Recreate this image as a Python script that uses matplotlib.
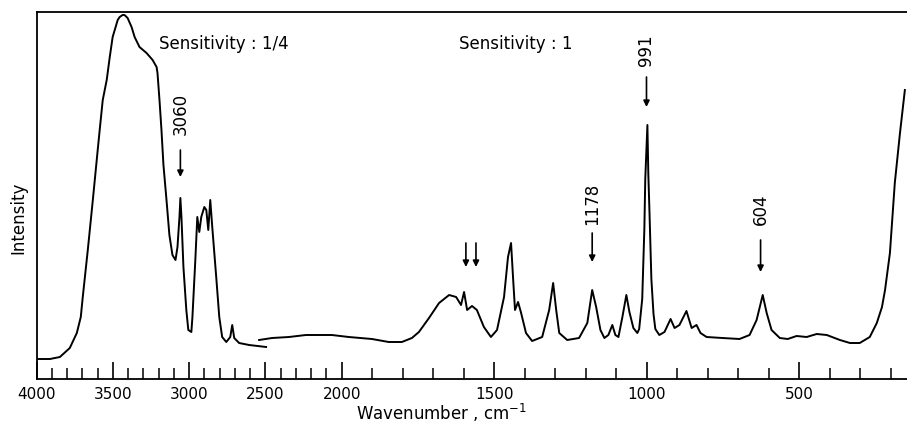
import numpy as np
import matplotlib
matplotlib.use("Agg")
import matplotlib.pyplot as plt

# Raman spectrum (wavenumber in cm-1, intensity in arb. units)
# Segment 1: 4000-2500 cm-1 recorded at sensitivity 1/4
hi_wn = [4000, 3946, 3913, 3848, 3783, 3737, 3711, 3698, 3665, 3632, 3600, 3587,
         3567, 3541, 3521, 3502, 3469, 3456, 3437, 3424, 3404, 3378, 3358, 3326,
         3280, 3240, 3214, 3208, 3195, 3182, 3169, 3149, 3130, 3110, 3090, 3077,
         3064, 3058, 3051, 3038, 3019, 3006, 2986, 2979, 2960, 2947, 2934, 2921,
         2901, 2888, 2875, 2862, 2849, 2823, 2803, 2784, 2757, 2731, 2718, 2705,
         2673, 2607, 2496]
hi_int = [20, 20, 20, 22, 31, 46, 62, 82, 129, 179, 229, 249,
          279, 299, 322, 342, 359, 362, 364, 364, 361, 352, 342, 332,
          326, 319, 312, 306, 279, 249, 214, 179, 144, 124, 119, 132,
          162, 181, 162, 112, 69, 49, 47, 62, 119, 162, 147, 162,
          172, 169, 149, 179, 152, 102, 62, 42, 37, 42, 54, 41,
          36, 34, 32]

# Segment 2: 2540-150 cm-1 recorded at sensitivity 1
lo_wn = [2542, 2457, 2346, 2235, 2170, 2065, 1977, 1901, 1846, 1803, 1770, 1747,
         1714, 1681, 1648, 1625, 1609, 1599, 1589, 1573, 1557, 1534, 1511, 1491,
         1468, 1455, 1445, 1438, 1432, 1422, 1412, 1396, 1376, 1343, 1320, 1307,
         1297, 1287, 1261, 1222, 1195, 1179, 1166, 1152, 1139, 1126, 1113,
         1103, 1093, 1080, 1067, 1057, 1044, 1031, 1025, 1015, 1008, 1005, 998,
         995, 991, 985, 978, 972, 959, 942, 922, 909, 893, 870, 853, 837, 824,
         804, 752, 696, 663, 640, 620, 607, 591, 564, 538, 509, 476, 443, 410,
         367, 334, 302, 269, 246, 229, 219, 203, 187, 170, 154]
lo_int = [39, 41, 42, 44, 44, 44, 42, 40, 37, 37, 41, 47,
          61, 76, 84, 82, 74, 87, 69, 73, 69, 52, 42, 49,
          82, 122, 136, 99, 69, 77, 66, 46, 38, 42, 69, 96,
          69, 46, 39, 41, 56, 89, 72, 49, 41, 44, 54,
          44, 42, 62, 84, 67, 51, 46, 50, 80, 150, 200, 254,
          205, 165, 100, 65, 50, 44, 47, 60, 51, 54, 68, 51, 54, 46,
          42, 41, 40, 44, 59, 84, 66, 49, 41, 40, 43, 42, 45, 44,
          39, 36, 36, 42, 56, 72, 89, 126, 196, 246, 289]

# labelled bands: text, arrow position as drawn, arrow tail / tip, text base
band_labels = ["3060", "1178", "991", "604"]
band_pos = [3058, 1179, 1001, 627]
arrow_top = [229, 146, 302, 139]
arrow_tip = [202, 117, 272, 107]
label_base = [244, 154, 313, 154]

# unlabelled double arrow
pair_pos = [1593, 1560]
pair_top = 136
pair_tip = 112

major_ticks = [4000, 3500, 3000, 2500, 2000, 1500, 1000, 500]
minor_ticks = list(range(200, 4000, 100))


# above 2000 cm-1 the chart paper is compressed by a factor of two
def fwd(w):
    w = np.asarray(w, dtype=float)
    return np.where(w > 2000, 2000 + (w - 2000) / 2.0, w)


def inv(u):
    u = np.asarray(u, dtype=float)
    return np.where(u > 2000, 2000 + (u - 2000) * 2.0, u)


W, H = 907, 433
fig = plt.figure(figsize=(W / 100, H / 100), dpi=100)
ax = fig.add_axes([36.7 / W, 1 - 379 / H, (W - 36.7) / W, 367 / H])

ax.set_xscale("function", functions=(fwd, inv))
ax.plot(hi_wn, hi_int, color="black", lw=1.4)
ax.plot(lo_wn, lo_int, color="black", lw=1.4)

ax.set_xlim(4000, 147)
ax.set_ylim(0, 367)

ax.set_xticks(major_ticks)
ax.set_xticklabels([str(t) for t in major_ticks])
ax.set_xticks(minor_ticks, minor=True)
ax.tick_params(axis="x", which="major", direction="in", length=12, width=1.2,
               labelsize=11, pad=6)
ax.tick_params(axis="x", which="minor", direction="in", length=8, width=1.1)
ax.set_yticks([])

for side in ["left", "top", "bottom"]:
    ax.spines[side].set_linewidth(1.3)
ax.spines["right"].set_visible(False)

ax.set_xlabel("Wavenumber , cm$^{-1}$", fontsize=12)
ax.xaxis.set_label_coords(0.4646, -0.062)
ax.set_ylabel("Intensity", fontsize=12)
ax.yaxis.set_label_coords(-0.011, 0.439)

ax.text(3195, 335, "Sensitivity : 1/4", fontsize=12, va="center", ha="left")
ax.text(1616, 335, "Sensitivity : 1", fontsize=12, va="center", ha="left")

arrow_kw = dict(arrowstyle="-|>", color="black", lw=1.2, mutation_scale=9,
                shrinkA=0, shrinkB=0)
for lab, x, y0, y1, yt in zip(band_labels, band_pos, arrow_top, arrow_tip, label_base):
    ax.annotate("", xy=(x, y1), xytext=(x, y0), arrowprops=arrow_kw)
    ax.text(x, yt, lab, rotation=90, ha="center", va="bottom", fontsize=12)

for x in pair_pos:
    ax.annotate("", xy=(x, pair_tip), xytext=(x, pair_top), arrowprops=arrow_kw)

fig.savefig("out.png", dpi=100)
